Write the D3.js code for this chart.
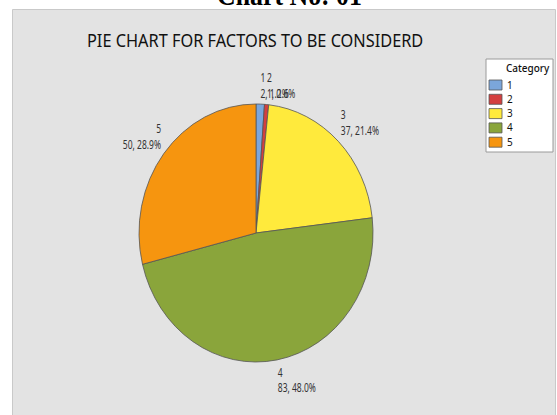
<!DOCTYPE html>
<html>
<head>
<meta charset="utf-8">
<script src="https://cdn.jsdelivr.net/npm/d3@7"></script>
<style>
  html, body { margin: 0; padding: 0; background: #fff; }
  svg { display: block; }
</style>
</head>
<body>
<svg id="chart" width="557" height="415"></svg>
<script>
// Pie chart data
const categories = ["1", "2", "3", "4", "5"];
const counts = [2, 1, 37, 83, 50];
const percents = ["1.2%", "0.6%", "21.4%", "48.0%", "28.9%"];
const colors = ["#7ba6db", "#d43f3f", "#ffea3c", "#8aa53b", "#f6950f"];

const chartTitle = "PIE CHART FOR FACTORS TO BE CONSIDERD";
const heading = "Chart No: 01";
const legendTitle = "Category";

const width = 557, height = 415;
const sx = 0.907;              // horizontal compression of the whole figure
const labelSx = 0.75;          // slice labels use a narrow face

const svg = d3.select("#chart");
const g = svg.append("g").attr("transform", `scale(${sx},1)`);

// heading above the panel
g.append("text")
  .attr("x", 289.5 / sx).attr("y", 5)
  .attr("text-anchor", "middle")
  .attr("font-family", "Liberation Serif, Times New Roman, serif")
  .attr("font-weight", "bold")
  .attr("font-size", 28.5)
  .attr("fill", "#000")
  .text(heading);

// grey panel
g.append("rect")
  .attr("x", 12.5 / sx).attr("y", 9.5)
  .attr("width", (555.5 - 12.5) / sx).attr("height", 420)
  .attr("fill", "#e3e3e3")
  .attr("stroke", "#c9c9c9")
  .attr("stroke-width", 1)
  .attr("vector-effect", "non-scaling-stroke");

// chart title
g.append("text")
  .attr("x", 87 / sx).attr("y", 47.5)
  .attr("font-family", "Noto Sans, Open Sans, sans-serif")
  .attr("font-size", 18)
  .attr("fill", "#111")
  .text(chartTitle);

// pie
const cx = 256 / sx, cy = 233, R = 129;
const pie = d3.pie().sort(null).value(d => d.value)(
  categories.map((c, i) => ({ cat: c, value: counts[i], pct: percents[i], color: colors[i] }))
);
const arc = d3.arc().innerRadius(0).outerRadius(R);

const pg = g.append("g").attr("transform", `translate(${cx},${cy})`);
pg.selectAll("path")
  .data(pie)
  .join("path")
  .attr("d", arc)
  .attr("fill", d => d.data.color)
  .attr("stroke", "#555")
  .attr("stroke-width", 0.8)
  .attr("vector-effect", "non-scaling-stroke");

// slice labels: category on the first line, count and percent on the second
const lineH = 15.5, capH = 8.8, gap = 6, diagGap = 12;
const boxH = capH + lineH;
const lab = pg.selectAll("g.lab")
  .data(pie)
  .join("g")
  .attr("class", "lab")
  .attr("transform", d => {
    const a = (d.startAngle + d.endAngle) / 2;
    const s = Math.sin(a), c = Math.cos(a);
    const x = R * 1.03 * s;
    const dist = R + gap + boxH / 2 + diagGap * Math.abs(s);
    const top = -c * dist - boxH / 2;
    return `translate(${x},${top}) scale(${labelSx},1)`;
  });

const labText = lab.append("text")
  .attr("font-family", "Noto Sans, Open Sans, sans-serif")
  .attr("font-size", 12.5)
  .attr("fill", "#333")
  .attr("text-anchor", d => Math.sin((d.startAngle + d.endAngle) / 2) >= 0 ? "start" : "end");
labText.append("tspan").attr("x", 0).attr("y", capH).text(d => d.data.cat);
labText.append("tspan").attr("x", 0).attr("y", capH + lineH).text(d => `${d.data.value}, ${d.data.pct}`);

// legend
const lx = 486 / sx, ly = 59;
const lg = g.append("g").attr("transform", `translate(${lx},${ly})`);
lg.append("rect")
  .attr("width", (553 - 486) / sx).attr("height", 93)
  .attr("fill", "#fff")
  .attr("stroke", "#9a9a9a")
  .attr("stroke-width", 1)
  .attr("vector-effect", "non-scaling-stroke");
lg.append("text")
  .attr("x", (506 - 486) / sx).attr("y", 13.5)
  .attr("font-family", "Noto Sans, Open Sans, sans-serif")
  .attr("font-size", 11)
  .attr("font-weight", 500)
  .attr("fill", "#111")
  .text(legendTitle);
const rows = lg.selectAll("g.row")
  .data(categories)
  .join("g")
  .attr("class", "row")
  .attr("transform", (d, i) => `translate(${3 / sx},${21 + i * 14.3})`);
rows.append("rect")
  .attr("width", 13 / sx).attr("height", 10)
  .attr("fill", (d, i) => colors[i])
  .attr("stroke", "#555")
  .attr("stroke-width", 0.8)
  .attr("vector-effect", "non-scaling-stroke");
rows.append("text")
  .attr("x", (507 - 489) / sx).attr("y", 8.5)
  .attr("font-family", "Noto Sans, Open Sans, sans-serif")
  .attr("font-size", 11)
  .attr("fill", "#111")
  .text(d => d);
</script>
</body>
</html>
